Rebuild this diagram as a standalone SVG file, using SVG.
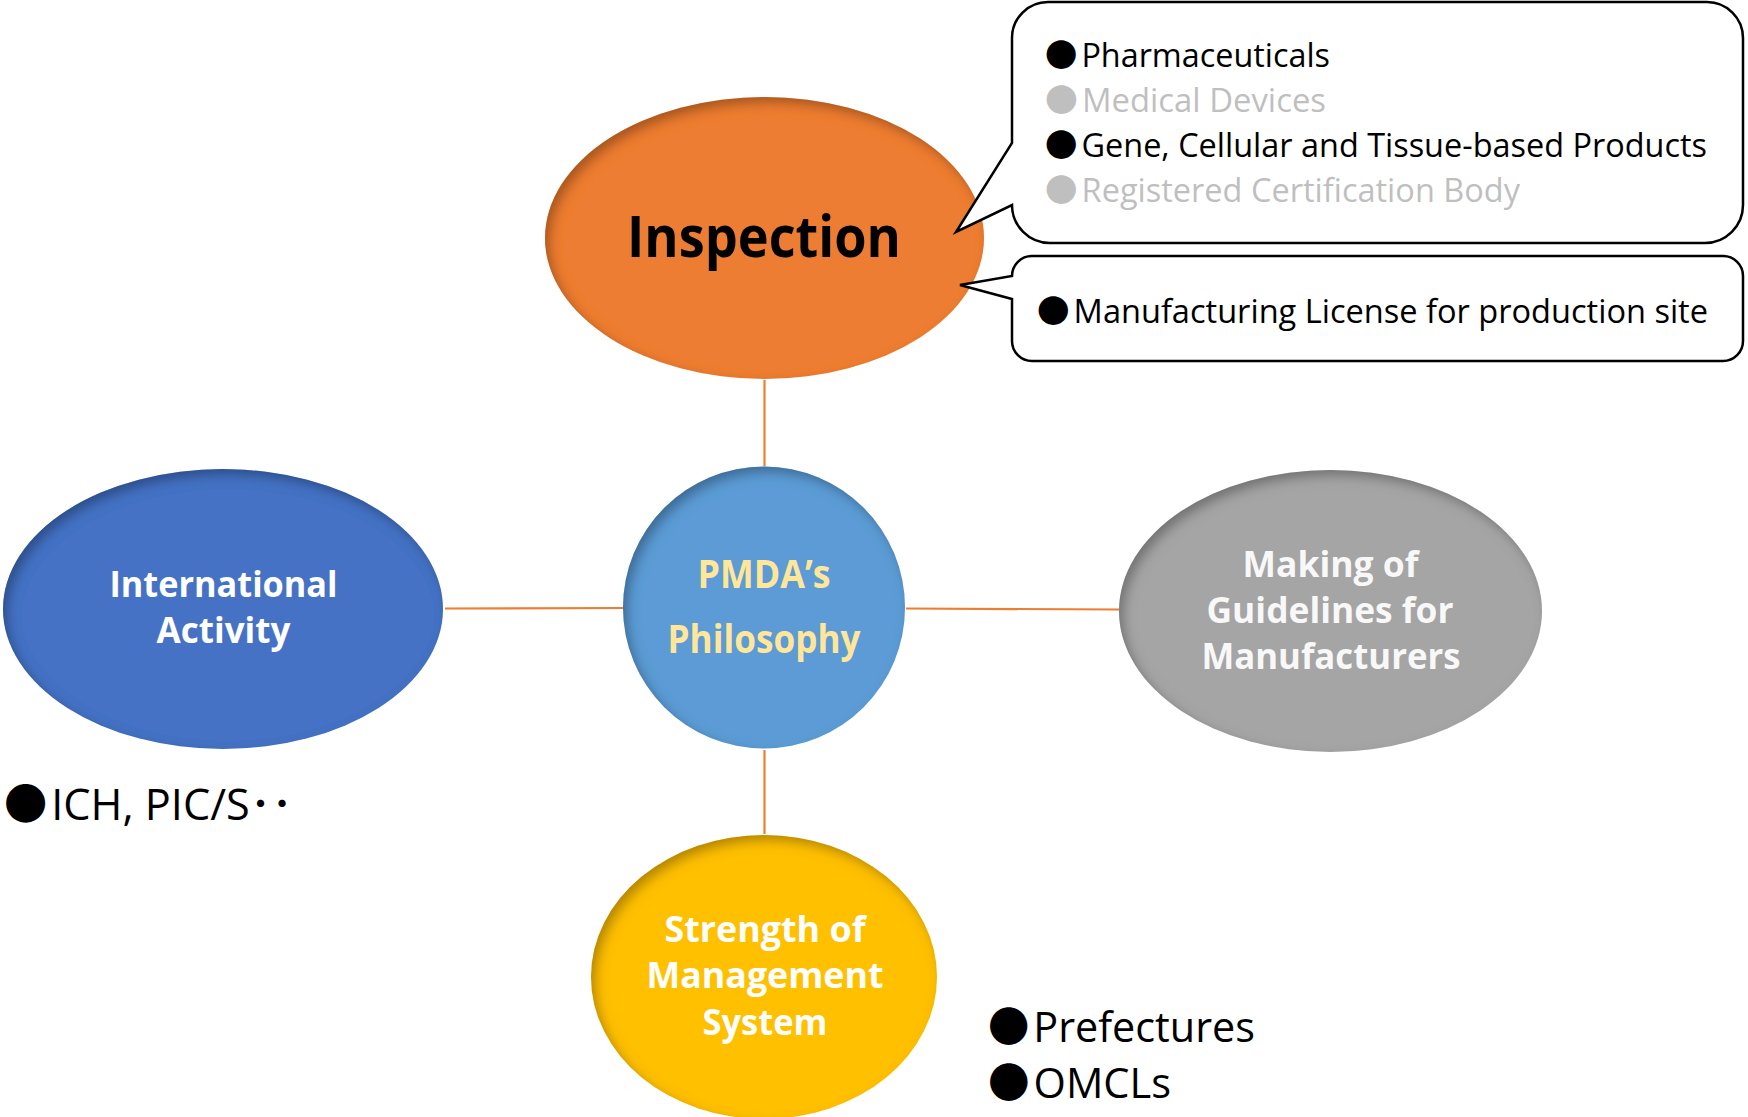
<svg xmlns="http://www.w3.org/2000/svg" width="1748" height="1117" viewBox="0 0 1748 1117">
<defs>
<style>
.nt{font-family:"Open Sans","Noto Sans",sans-serif;font-weight:700;text-anchor:middle}
.li{font-family:"Open Sans","Noto Sans CJK JP",sans-serif;fill:#000}
.gr{fill:#BFBFBF}
.conn{stroke:#ED7D31;stroke-width:2.2;fill:none}
.callout{fill:#fff;stroke:#000;stroke-width:2.5;stroke-linejoin:miter}
</style>
<filter id="inner" x="-10%" y="-10%" width="120%" height="120%">
<feComponentTransfer in="SourceAlpha" result="inv"><feFuncA type="table" tableValues="1 0"/></feComponentTransfer>
<feOffset in="inv" dx="5" dy="6" result="off"/>
<feGaussianBlur in="off" stdDeviation="6" result="blur"/>
<feFlood flood-color="#000" flood-opacity="0.55"/>
<feComposite in2="blur" operator="in"/>
<feComposite in2="SourceAlpha" operator="in" result="shadow"/>
<feMerge><feMergeNode in="SourceGraphic"/><feMergeNode in="shadow"/></feMerge>
</filter>
</defs>
<rect width="1748" height="1117" fill="#fff"/>

<g id="connectors">
<line class="conn" x1="764.5" y1="380" x2="764.5" y2="466"/>
<line class="conn" x1="764.5" y1="750" x2="764.5" y2="834"/>
<line class="conn" x1="445" y1="608.5" x2="623" y2="608"/>
<line class="conn" x1="906" y1="608.5" x2="1119" y2="609.5"/>
</g>

<g id="inspection">
<ellipse cx="764.5" cy="238" rx="219.5" ry="141" fill="#ED7D31" filter="url(#inner)"/>
<text class="nt" x="764" y="257" font-size="58" fill="#000" textLength="274" lengthAdjust="spacingAndGlyphs">Inspection</text>
</g>

<g id="callout-products">
<path class="callout" d="M1048,2 H1707 A36,36 0 0 1 1743,38 V205 A38,38 0 0 1 1705,243 H1050 A38,38 0 0 1 1012,205 L956,232 L1012,143 V38 A36,36 0 0 1 1048,2 Z"/>
<text class="li" x="1045" y="67" dx="0 4" font-size="32" textLength="285" lengthAdjust="spacingAndGlyphs">●Pharmaceuticals</text>
<text class="li gr" x="1045" y="112" dx="0 4" font-size="32" textLength="281" lengthAdjust="spacingAndGlyphs">●Medical Devices</text>
<text class="li" x="1045" y="157" dx="0 4" font-size="32" textLength="662" lengthAdjust="spacingAndGlyphs">●Gene, Cellular and Tissue-based Products</text>
<text class="li gr" x="1045" y="202" dx="0 4" font-size="32" textLength="475" lengthAdjust="spacingAndGlyphs">●Registered Certification Body</text>
</g>

<g id="callout-license">
<path class="callout" d="M1032,256 H1723 A20,20 0 0 1 1743,276 V341 A20,20 0 0 1 1723,361 H1032 A20,20 0 0 1 1012,341 V299 L960,285 L1012,276 A20,20 0 0 1 1032,256 Z"/>
<text class="li" x="1037" y="323" dx="0 4" font-size="32" textLength="671" lengthAdjust="spacingAndGlyphs">●Manufacturing License for production site</text>
</g>

<g id="philosophy">
<circle cx="764" cy="607.5" r="141" fill="#5B9BD5" filter="url(#inner)"/>
<text class="nt" x="764" y="588" font-size="39" fill="#FFE699" textLength="133" lengthAdjust="spacingAndGlyphs">PMDA’s</text>
<text class="nt" x="764" y="653" font-size="39" fill="#FFE699" textLength="193" lengthAdjust="spacingAndGlyphs">Philosophy</text>
</g>

<g id="international">
<ellipse cx="223" cy="609" rx="220" ry="140" fill="#4472C4" filter="url(#inner)"/>
<text class="nt" x="223.5" y="597" font-size="35" fill="#fff" textLength="228" lengthAdjust="spacingAndGlyphs">International</text>
<text class="nt" x="223.5" y="643" font-size="35" fill="#fff" textLength="134" lengthAdjust="spacingAndGlyphs">Activity</text>
</g>

<g id="ich">
<text class="li" x="4" y="820" dx="0 4" font-size="43" textLength="289" lengthAdjust="spacingAndGlyphs">●ICH, PIC/S･･</text>
</g>

<g id="guidelines">
<ellipse cx="1330.5" cy="611" rx="211.5" ry="141" fill="#A5A5A5" filter="url(#inner)"/>
<text class="nt" x="1330.5" y="577" font-size="35" fill="#F8F8F8" textLength="176" lengthAdjust="spacingAndGlyphs">Making of</text>
<text class="nt" x="1330" y="623" font-size="35" fill="#F8F8F8" textLength="247" lengthAdjust="spacingAndGlyphs">Guidelines for</text>
<text class="nt" x="1331" y="669" font-size="35" fill="#F8F8F8" textLength="259" lengthAdjust="spacingAndGlyphs">Manufacturers</text>
</g>

<g id="strength">
<ellipse cx="764" cy="977" rx="173" ry="142" fill="#FFC000" filter="url(#inner)"/>
<text class="nt" x="765" y="942" font-size="35" fill="#fff" textLength="201" lengthAdjust="spacingAndGlyphs">Strength of</text>
<text class="nt" x="765" y="988" font-size="35" fill="#fff" textLength="237" lengthAdjust="spacingAndGlyphs">Management</text>
<text class="nt" x="765" y="1035" font-size="35" fill="#fff" textLength="125" lengthAdjust="spacingAndGlyphs">System</text>
</g>

<g id="authorities">
<text class="li" x="988" y="1042" dx="0 4" font-size="42" textLength="267" lengthAdjust="spacingAndGlyphs">●Prefectures</text>
<text class="li" x="988" y="1098" dx="0 4" font-size="42" textLength="183" lengthAdjust="spacingAndGlyphs">●OMCLs</text>
</g>
</svg>
